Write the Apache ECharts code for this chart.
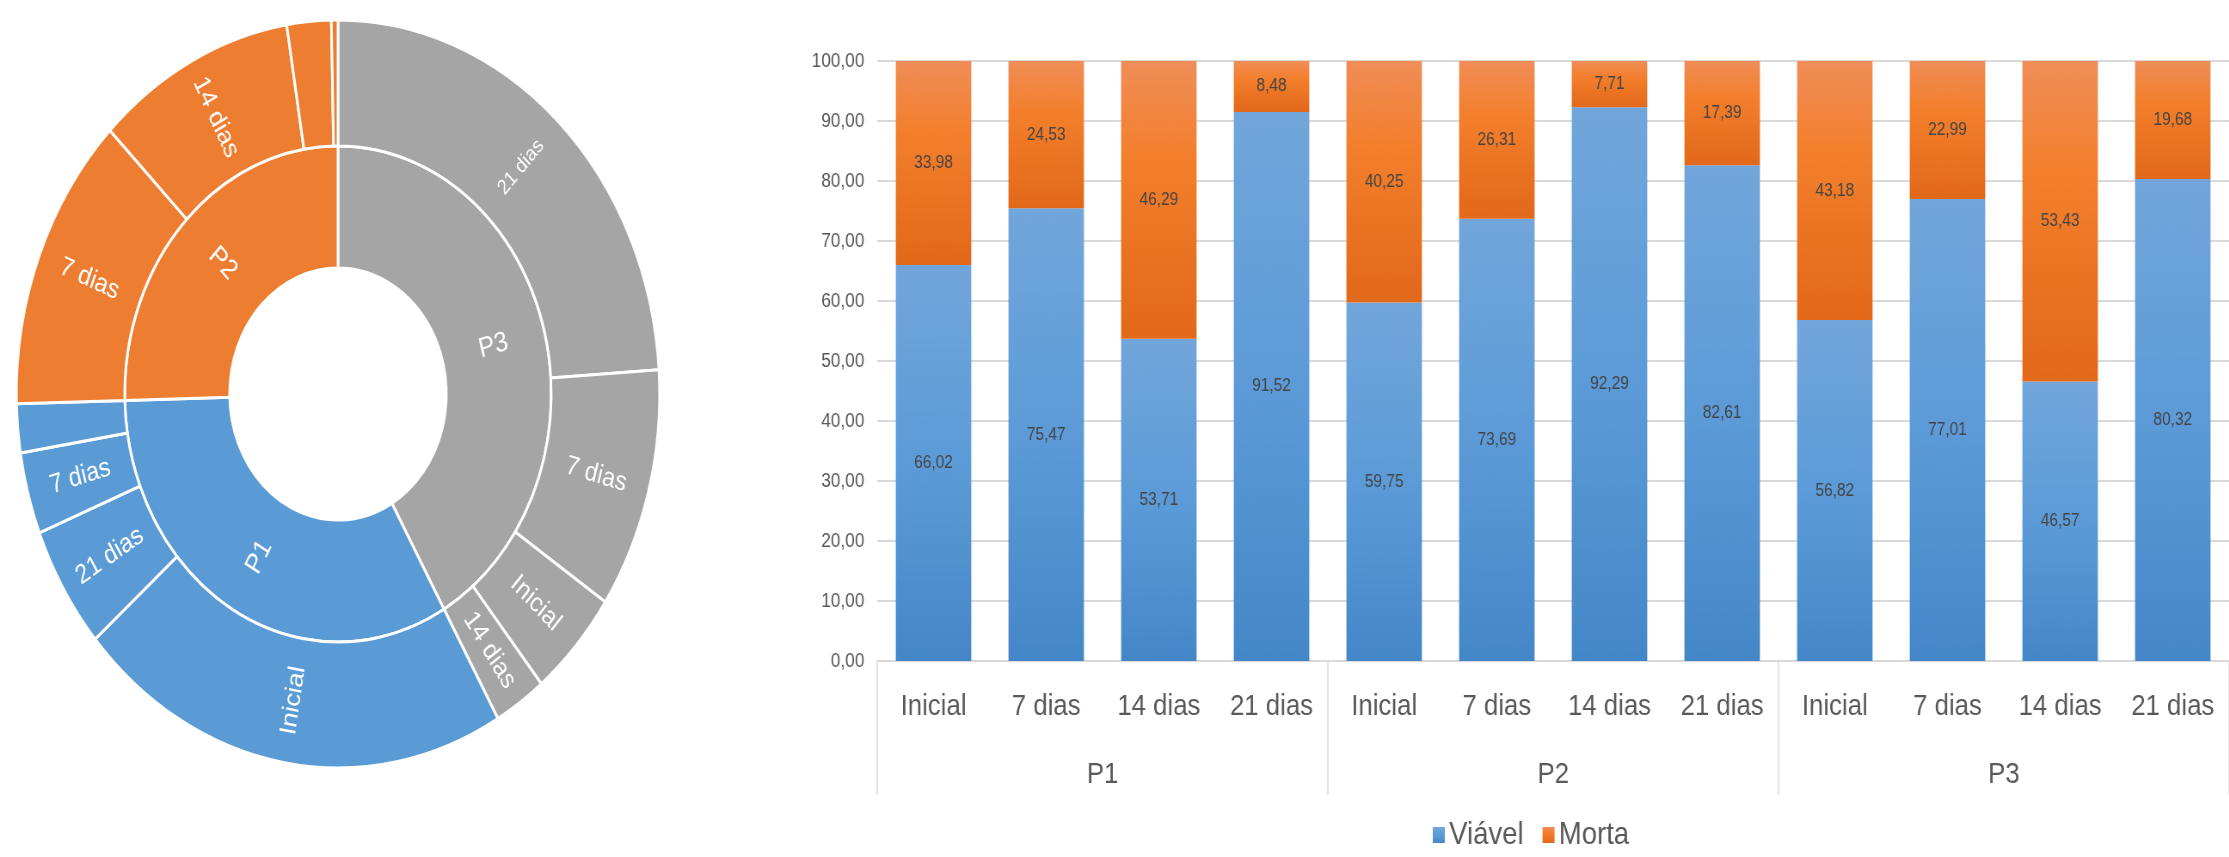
<!DOCTYPE html>
<html>
<head>
<meta charset="utf-8">
<title>Viável / Morta</title>
<script src="https://cdn.jsdelivr.net/npm/echarts/dist/echarts.min.js"></script>
<style>
  html, body { margin: 0; padding: 0; overflow: hidden; background: #fff; }
  /* the source picture is squeezed horizontally, so the chart is drawn wider and squeezed back */
  #chart { width: 2592px; height: 857px; transform: scaleX(0.86); transform-origin: 0 0; }
</style>
</head>
<body>
<div id="chart"></div>
<script>
// bar chart data
const categories = ['Inicial', '7 dias', '14 dias', '21 dias',
  'Inicial', '7 dias', '14 dias', '21 dias',
  'Inicial', '7 dias', '14 dias', '21 dias']
const groups = ['P1', 'P2', 'P3']
const viavel = [66.02, 75.47, 53.71, 91.52, 59.75, 73.69, 92.29, 82.61, 56.82, 77.01, 46.57, 80.32]
const morta = [33.98, 24.53, 46.29, 8.48, 40.25, 26.31, 7.71, 17.39, 43.18, 22.99, 53.43, 19.68]
const yTicks = [0, 10, 20, 30, 40, 50, 60, 70, 80, 90, 100]

// sunburst data (share of the ring)
const sunNames = ['Inicial', '7 dias', '14 dias', '21 dias']
const sunP1 = [21.9, 3.53, 2.11, 5.33]
const sunP2 = [0.33, 12.86, 10.0, 2.22]
const sunP3 = [4.72, 10.42, 2.61, 23.97]
const sunColors = { P1: '#5b9bd5', P2: '#ed7d31', P3: '#a5a5a5' }

const FONT = '"Liberation Sans", Arial, sans-serif'
const fmt = v => Number(v).toFixed(2).replace('.', ',')

function parent(name, values) {
  const color = sunColors[name]
  return {
    name: name,
    itemStyle: { color: color },
    children: sunNames.map((n, i) => {
      const node = { name: n, value: values[i], itemStyle: { color: color } }
      if (name === 'P3' && n === '21 dias') node.label = { fontSize: 21 }
      return node
    })
  }
}

const sunData = [parent('P1', sunP1), parent('P2', sunP2), parent('P3', sunP3)]

const blueFill = {
  type: 'linear', x: 0, y: 0, x2: 0, y2: 1,
  colorStops: [
    { offset: 0, color: '#72a6db' },
    { offset: 0.5, color: '#5c9bd8' },
    { offset: 1, color: '#4487c8' }
  ]
}
const orangeFill = {
  type: 'linear', x: 0, y: 0, x2: 0, y2: 1,
  colorStops: [
    { offset: 0, color: '#f08d57' },
    { offset: 0.35, color: '#f37f2c' },
    { offset: 1, color: '#e2681a' }
  ]
}

const myChart = echarts.init(document.getElementById('chart'))
const option = {
  animation: false,
  textStyle: { fontFamily: FONT },
  grid: { left: 1020, top: 61, width: 1586, height: 600 },
  legend: {
    data: ['Viável', 'Morta'],
    left: 1661,
    top: 814,
    icon: 'rect',
    itemWidth: 14,
    itemHeight: 16,
    itemGap: 22,
    textStyle: { fontSize: 32, color: '#595959', fontFamily: FONT }
  },
  xAxis: [
    {
      type: 'category',
      data: categories,
      axisLine: { lineStyle: { color: '#d9d9d9', width: 2 } },
      axisTick: { show: false },
      axisLabel: { fontSize: 30, color: '#595959', margin: 31, interval: 0 }
    },
    {
      type: 'category',
      data: groups,
      position: 'bottom',
      axisLine: { show: false },
      axisTick: { show: true, length: 134, lineStyle: { color: '#d9d9d9', width: 1.5 } },
      axisLabel: { fontSize: 30, color: '#595959', margin: 99 },
      splitLine: { show: false }
    }
  ],
  yAxis: {
    type: 'value',
    min: 0,
    max: 100,
    interval: 10,
    axisLine: { show: false },
    axisTick: { show: false },
    splitLine: { lineStyle: { color: '#d9d9d9', width: 2 } },
    axisLabel: {
      fontSize: 20,
      color: '#595959',
      margin: 15,
      formatter: v => yTicks.includes(v) ? fmt(v) : ''
    }
  },
  series: [
    {
      name: 'Viável',
      type: 'bar',
      stack: 'total',
      data: viavel,
      barCategoryGap: '33%',
      itemStyle: { color: blueFill },
      label: { show: true, position: 'inside', fontSize: 18, color: '#444', formatter: p => fmt(p.value) }
    },
    {
      name: 'Morta',
      type: 'bar',
      stack: 'total',
      data: morta,
      barCategoryGap: '33%',
      itemStyle: { color: orangeFill },
      label: { show: true, position: 'inside', fontSize: 18, color: '#444', formatter: p => fmt(p.value) }
    },
    {
      type: 'sunburst',
      center: [393, 394],
      radius: [126, 374],
      data: sunData,
      sort: 'desc',
      startAngle: 90,
      itemStyle: { borderColor: '#fff', borderWidth: 3 },
      label: { color: '#fff', fontSize: 27, rotate: 'radial', minAngle: 9, fontFamily: FONT },
      levels: [
        {},
        { r0: 126, r: 248, label: { fontSize: 28 } },
        { r0: 248, r: 374, label: { fontSize: 27 } }
      ]
    }
  ]
}
myChart.setOption(option, true)
</script>
</body>
</html>
